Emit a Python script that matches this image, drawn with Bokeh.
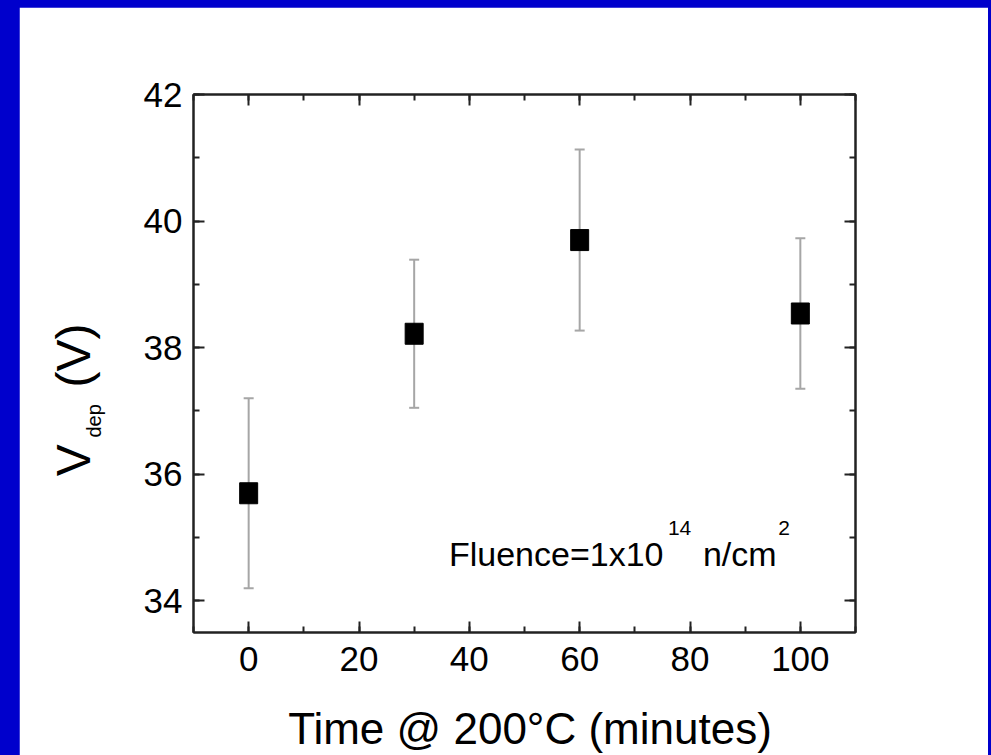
import numpy as np
from bokeh.plotting import figure
from bokeh.models import (ColumnDataSource, Whisker, TeeHead, LinearAxis, Range1d,
                          SingleIntervalTicker, CustomJSTickFormatter, Label,
                          GlobalInlineStyleSheet)
from bokeh.embed import file_html
from bokeh.resources import INLINE

# ---- data ----
times = [0, 30, 60, 100]
vdep = [35.70, 38.22, 39.70, 38.54]
vdep_err = [1.50, 1.17, 1.43, 1.19]
x_title = "Time @ 200°C (minutes)"
y_title_main = "V"
y_title_sub = "dep"
y_title_unit = "(V)"
note_main = "Fluence=1x10"
note_exp = "14"
note_unit = "n/cm"
note_unit_exp = "2"

FONT = "Liberation Sans"
AX = "#222222"

source = ColumnDataSource(dict(
    x=times, y=vdep,
    upper=[v + e for v, e in zip(vdep, vdep_err)],
    lower=[v - e for v, e in zip(vdep, vdep_err)],
))

css = GlobalInlineStyleSheet(css=(
    "html, body { margin: 0 !important; padding: 0 !important; "
    "background-color: #0000CC !important; overflow: hidden; }"))

p = figure(width=969, height=748, output_backend="svg", toolbar_location=None,
           x_range=Range1d(-10, 110), y_range=Range1d(33.5, 42),
           min_border_left=174, min_border_right=133,
           min_border_top=87, min_border_bottom=123,
           x_axis_location=None, y_axis_location=None,
           stylesheets=[css])
p.margin = (7, 0, 0, 19)
p.background_fill_color = "white"
p.border_fill_color = "white"
p.outline_line_color = AX
p.outline_line_width = 2
p.xgrid.visible = False
p.ygrid.visible = False


def style_axis(ax, show_labels, standoff=0):
    ax.axis_line_color = AX
    ax.axis_line_width = 2
    ax.major_tick_line_color = AX
    ax.major_tick_line_width = 2
    ax.minor_tick_line_color = AX
    ax.minor_tick_line_width = 2
    ax.major_tick_in = 11
    ax.major_tick_out = 0
    ax.minor_tick_in = 6
    ax.minor_tick_out = 0
    ax.major_label_text_font = FONT
    ax.major_label_text_font_size = "35px"
    ax.major_label_text_color = "black"
    ax.major_label_standoff = standoff
    if not show_labels:
        ax.formatter = CustomJSTickFormatter(code="return ''")


for side in ["below", "above"]:
    ax = LinearAxis(ticker=SingleIntervalTicker(interval=20, num_minor_ticks=2))
    style_axis(ax, side == "below", 14 if side == "below" else 0)
    p.add_layout(ax, side)

for side in ["left", "right"]:
    ax = LinearAxis(ticker=SingleIntervalTicker(interval=2, num_minor_ticks=2))
    style_axis(ax, side == "left", 11 if side == "left" else 0)
    p.add_layout(ax, side)

# error bars
whisk = Whisker(source=source, base="x", upper="upper", lower="lower",
                dimension="height", line_color="#a6a6a6", line_width=2,
                upper_head=TeeHead(size=10, line_color="#a6a6a6", line_width=2),
                lower_head=TeeHead(size=10, line_color="#a6a6a6", line_width=2))
p.add_layout(whisk)

# square markers
p.rect(x="x", y="y", width=18, height=21, width_units="screen", height_units="screen",
       source=source, fill_color="black", line_color="black", line_width=1)


def lab(text, x, y, size, place=None, **kw):
    l = Label(x=x, y=y, text=text, text_font=FONT, text_font_size=size,
              text_color="black", text_baseline="alphabetic", **kw)
    if place is None:
        p.add_layout(l)
    else:
        p.add_layout(l, place)
    return l

# fluence note (inside the frame)
lab(note_main, 36.3, 34.74, "34px")
lab(note_exp, 76.0, 35.15, "21px")
lab(note_unit, 82.35, 34.74, "34px")
lab(note_unit_exp, 96.0, 35.15, "21px")

# y axis title (rotated), x axis title
lab(y_title_unit, -31.7, 37.37, "48px", place="left", angle=np.pi / 2)
lab(y_title_main, -31.7, 35.97, "48px", place="right", angle=np.pi / 2)
lab(y_title_sub, -28.0, 36.58, "20px", place="right", angle=np.pi / 2)
lab(x_title, 51.0, 31.98, "44px", place="below", text_align="center")

open("out.html", "w").write(file_html(p, INLINE))
